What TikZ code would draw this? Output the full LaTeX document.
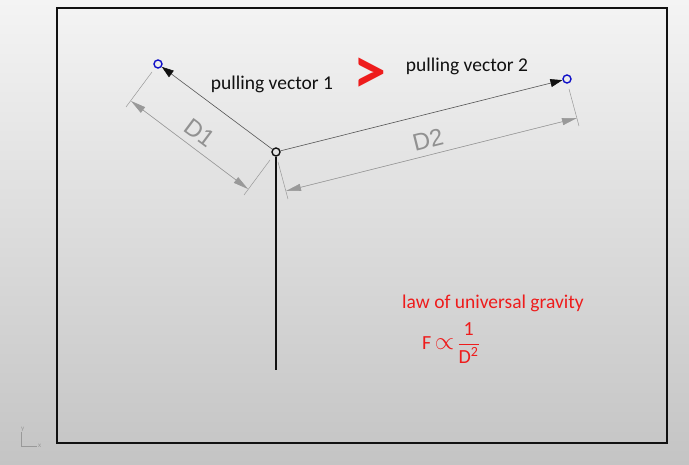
\documentclass[tikz,border=0pt]{standalone}
\usepackage{fontspec}
\setmainfont{Carlito}
\newfontfamily\dimfont{Liberation Sans}
\usepackage{amsmath}
\usetikzlibrary{arrows.meta,calc}
\definecolor{gvTop}{HTML}{F4F4F4}
\definecolor{gvBottom}{HTML}{C4C4C4}
\definecolor{gvInk}{HTML}{111111}
\definecolor{gvLine}{HTML}{555555}
\definecolor{gvDim}{HTML}{999999}
\definecolor{gvBlue}{HTML}{1010C8}
\definecolor{gvRed}{HTML}{EE1C1C}
\tikzset{
  vec/.style={-{Triangle[length=12pt,width=8pt,color=gvInk]}, draw=gvLine, line width=0.6pt},
  dimln/.style={{Triangle[length=15pt,width=7pt]}-{Triangle[length=15pt,width=7pt]}, draw=gvDim, fill=gvDim, line width=0.6pt},
  extln/.style={draw=gvDim, line width=0.5pt},
  dimlbl/.style={text=gvDim!95!black, font=\dimfont\fontsize{24}{24}\selectfont, inner sep=0pt},
  tip/.style={circle, draw=gvBlue, line width=1.4pt, inner sep=0pt, minimum size=8pt},
  hub/.style={circle, draw=gvInk, line width=1.4pt, inner sep=0pt, minimum size=8pt},
  lbl/.style={font=\fontsize{19.5}{19.5}\selectfont, text=gvInk, inner sep=0pt},
  redlbl/.style={font=\fontsize{19.5}{19.5}\selectfont, text=gvRed, inner sep=0pt},
}
\begin{document}
\begin{tikzpicture}[x=1pt,y=-1pt]
  \shade[top color=gvTop, bottom color=gvBottom] (0,0) rectangle (689,465);
  \useasboundingbox (0,0) rectangle (689,465);
  \draw[gvInk, line width=2pt] (57,8) rectangle (667,443);
  % points
  \node[hub] (O) at (276,152) {};
  \node[tip] (P1) at (158,64) {};
  \node[tip] (P2) at (567,79) {};
  \coordinate (base) at (276,370);
  \draw[gvInk, line width=2pt] (O) -- (base);
  \draw[vec] (O) -- (P1);
  \draw[vec] (O) -- (P2);
  % dimension D1
  \coordinate (e1a) at (152,72);  \coordinate (e1b) at (126,107);
  \coordinate (e1c) at (270,160); \coordinate (e1d) at (244,195);
  \coordinate (d1a) at (131,101); \coordinate (d1b) at (248,189);
  \draw[extln] (e1a) -- (e1b);
  \draw[extln] (e1c) -- (e1d);
  \draw[dimln] (d1a) -- (d1b);
  \node[dimlbl, rotate=-36.7] (D1) at (200,133) {D1};
  % dimension D2
  \coordinate (e2a) at (569,89);  \coordinate (e2b) at (579,126);
  \coordinate (e2c) at (278,162); \coordinate (e2d) at (288,199);
  \coordinate (d2a) at (577,118); \coordinate (d2b) at (286,191);
  \draw[extln] (e2a) -- (e2b);
  \draw[extln] (e2c) -- (e2d);
  \draw[dimln] (d2a) -- (d2b);
  \node[dimlbl, rotate=14.1] (D2) at (428,140) {D2};
  % labels
  \node[lbl] (v1) at (272,84) {pulling vector 1};
  \node[lbl] (v2) at (467,66) {pulling vector 2};
  \node[text=gvRed, font=\bfseries\fontsize{66}{66}\selectfont, inner sep=0pt] (gt) at (370,76) {>};
  \node[redlbl] (law) at (493,303) {law of universal gravity};
  \node[text=gvRed, font=\fontsize{20}{20}\selectfont, inner sep=0pt] (eq) at (451,343)
    {F\,{\fontsize{30}{30}\selectfont$\propto$}\,$\dfrac{\text{1}}{\text{D}^{\text{2}}}$};
  % axis icon
  \coordinate (ax0) at (21,446);
  \coordinate (axy) at (21,432);
  \coordinate (axx) at (37,446);
  \draw[gvDim, line width=0.6pt] (axy) -- (ax0) -- (axx);
  \node[text=gvDim, font=\fontsize{7}{7}\selectfont, inner sep=0pt, above right=0pt] at (axy) {y};
  \node[text=gvDim, font=\fontsize{7}{7}\selectfont, inner sep=1pt, right] at (axx) {x};
\end{tikzpicture}
\end{document}
